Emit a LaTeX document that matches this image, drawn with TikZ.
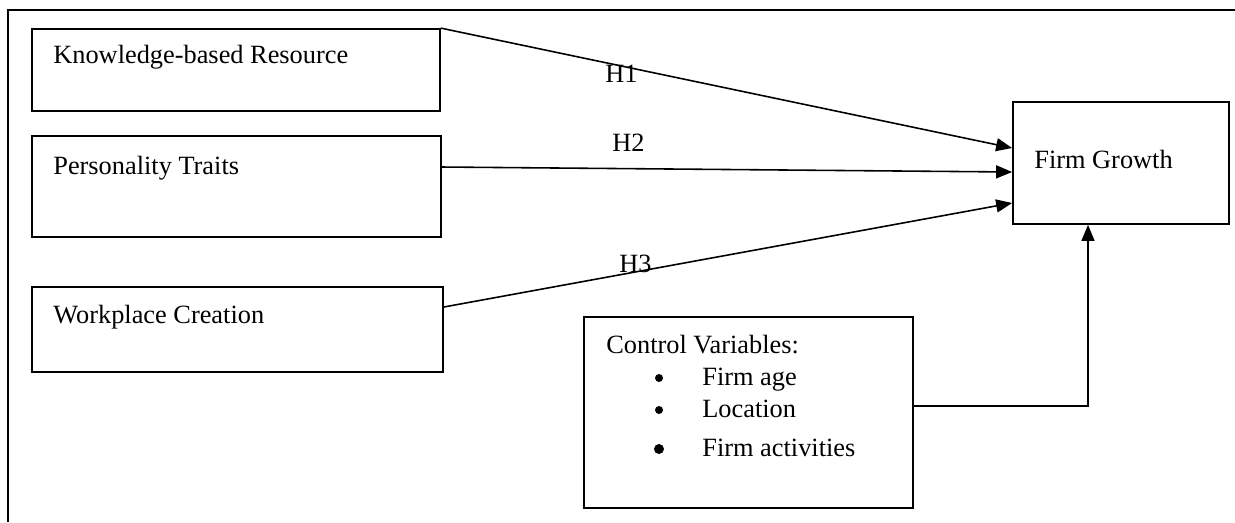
\documentclass[tikz,border=0pt]{standalone}
\usepackage{fontspec}
\setmainfont{Liberation Serif}
\usetikzlibrary{arrows.meta,fit}

\begin{document}
\begin{tikzpicture}[x=0.02cm, y=-0.02cm, font=\fontsize{15}{18}\selectfont,
            box/.style={draw, line width=1pt, inner sep=0pt},
            txt/.style={anchor=base west, inner sep=0pt},
            dot/.style={circle, fill, inner sep=0pt},
            arr/.style={line width=0.9pt, -{Triangle[length=0.32cm, width=0.26cm]}}]
            \useasboundingbox (0,0) rectangle (1235,522);
            \draw[line width=1pt] (1235,10) -- (8,10) -- (8,522);

            \node[box, fit={(32,29) (440,111)}] (kbr) {};
            \node[box, fit={(32,136) (441,237)}] (pt) {};
            \node[box, fit={(32,287) (443,372)}] (wc) {};
            \node[box, fit={(1013,102) (1229,224)}] (fg) {};
            \node[box, fit={(584,317) (913,508)}] (cv) {};

            \node[txt] (kbr-t) at (53,63) {Knowledge-based Resource};
            \node[txt] (pt-t) at (53,174) {Personality Traits};
            \node[txt] (wc-t) at (53,323) {Workplace Creation};
            \node[txt] (fg-t) at (1034,168) {Firm Growth};
            \node[txt] (cv-t) at (606,353) {Control Variables:};
            \foreach \y/\t/\d [count=\i] in {385/Firm age/0.16cm, 417/Location/0.16cm, 456/Firm activities/0.2cm} {
                \node[dot, minimum size=\d] (bul\i) at (659,\y-7) {};
                \node[txt] (item\i) at (702,\y) {\t};
            }

            \draw[arr] (kbr.north east) -- ([yshift=0.3cm]fg.west);
            \draw[arr] ([yshift=0.39cm]pt.east) -- ([yshift=-0.18cm]fg.west);
            \draw[arr] ([yshift=0.45cm]wc.east) -- ([yshift=-0.8cm]fg.west);
            \node[txt] (h1) at (605,82) {H1};
            \node[txt] (h2) at (612,151) {H2};
            \node[txt] (h3) at (619,272) {H3};

            \coordinate (bend) at (1088,406);
            \draw[arr] (bend -| cv.east) -- (bend) -- (bend |- fg.south);
        \end{tikzpicture}
\end{document}
